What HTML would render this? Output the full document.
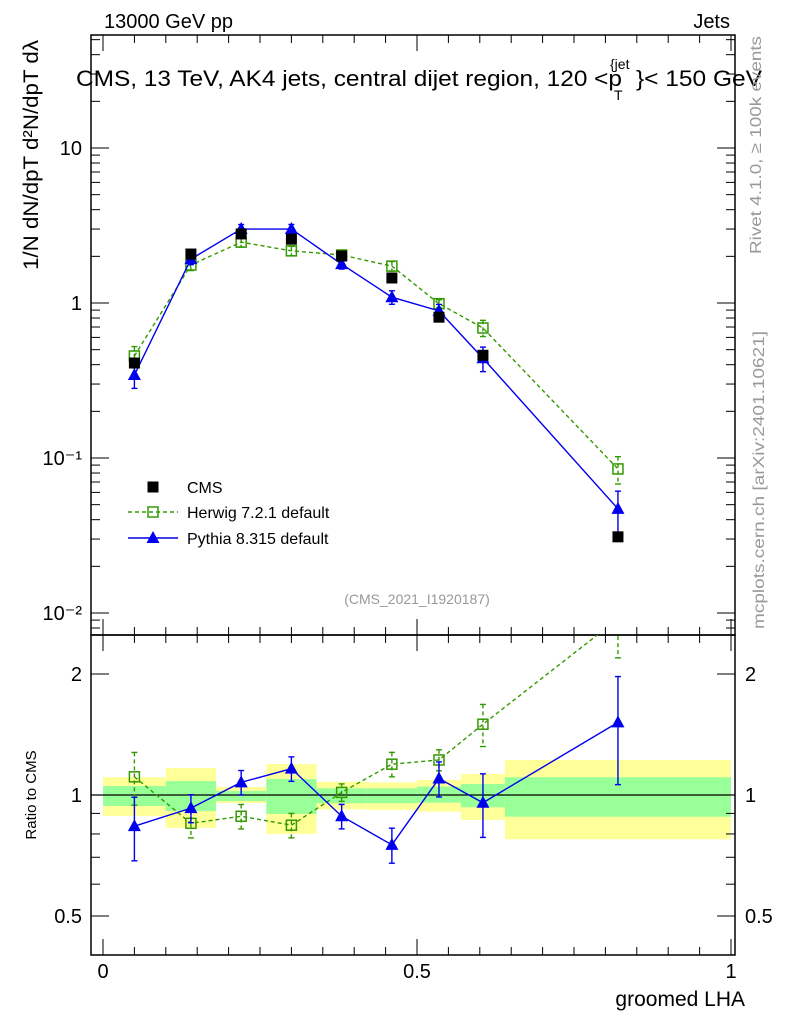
<!DOCTYPE html>
<html><head><meta charset="utf-8"><style>
body{margin:0;background:#fff}
svg{font-family:"Liberation Sans",sans-serif}
</style></head><body>
<svg id="c" width="786" height="1024" xmlns="http://www.w3.org/2000/svg"></svg>
<script>
const xCenters=[0.05,0.14,0.22,0.30,0.38,0.46,0.535,0.605,0.82];
const binEdges=[0,0.1,0.18,0.26,0.34,0.42,0.5,0.57,0.64,1.0];
const cmsVals=[0.41,2.07,2.79,2.58,2.01,1.45,0.81,0.46,0.031];
const herwigVals=[0.455,1.76,2.47,2.17,2.04,1.73,0.99,0.69,0.085];
const herwigRelErr=[0.15,0.08,0.07,0.07,0.05,0.07,0.06,0.12,0.2];
const pythiaVals=[0.343,1.92,3.0,3.0,1.78,1.09,0.89,0.44,0.047];
const pythiaRelErr=[0.18,0.08,0.07,0.07,0.07,0.1,0.1,0.18,0.3];
const bandYellowHi=[1.107,1.167,1.047,1.194,1.079,1.075,1.09,1.128,1.222];
const bandYellowLo=[0.887,0.828,0.955,0.80,0.921,0.918,0.909,0.867,0.776];
const bandGreenHi=[1.053,1.083,1.023,1.096,1.039,1.039,1.049,1.065,1.107];
const bandGreenLo=[0.939,0.912,0.966,0.897,0.954,0.954,0.957,0.932,0.883];
const mainTicks=["10\u207B\u00B2","10\u207B\u00B9","1","10"];
const xTickLabels=["0","0.5","1"];

const svg=document.getElementById('c');const NS="http://www.w3.org/2000/svg";
function el(t,a,p){const e=document.createElementNS(NS,t);for(const k in a)e.setAttribute(k,a[k]);(p||svg).appendChild(e);return e;}
const L=91,R=735,T=35,M=635,B=955;
const X=v=>103+v*628;
const Y=v=>303-155*Math.log10(v);
const YR=v=>795-121*Math.log2(v);
const defs=el('defs',{});
const c1=el('clipPath',{id:'cp1'},defs);el('rect',{x:L,y:T,width:R-L,height:M-T},c1);
const c2=el('clipPath',{id:'cp2'},defs);el('rect',{x:L,y:M,width:R-L,height:B-M},c2);

const gb=el('g',{'clip-path':'url(#cp2)'});

for(let i=0;i<xCenters.length;i++){
 const x0=X(binEdges[i]),x1=X(binEdges[i+1]);
 const ry=el('rect',{x:x0,y:YR(bandYellowHi[i]),width:x1-x0,height:YR(bandYellowLo[i])-YR(bandYellowHi[i]),fill:'#ffff99'},gb);
 
 const rg=el('rect',{x:x0,y:YR(bandGreenHi[i]),width:x1-x0,height:YR(bandGreenLo[i])-YR(bandGreenHi[i]),fill:'#99ff99'},gb);
 
}
el('line',{x1:L,x2:R,y1:YR(1),y2:YR(1),stroke:'#000','stroke-width':1.2});

el('rect',{x:L,y:T,width:R-L,height:M-T,fill:'none',stroke:'#000','stroke-width':1.5,});
el('rect',{x:L,y:M,width:R-L,height:B-M,fill:'none',stroke:'#000','stroke-width':1.5,});

for(let k=0;k<=20;k++){const v=k*0.05,x=X(v),len=(k%10==0)?16:8;
 for(const [y0,d] of [[T,1],[M,-1],[M,1],[B,-1]]) el('line',{x1:x,x2:x,y1:y0,y2:y0+d*len,stroke:'#000'});}
xTickLabels.forEach((t,i)=>{const tx=el('text',{x:X(i*0.5),y:978,'font-size':20,'text-anchor':'middle'});tx.textContent=t;
 });
for(let e=-3;e<=1;e++)for(let m=1;m<10;m++){const v=m*Math.pow(10,e),y=Y(v);if(y<T||y>M)continue;
 const len=m==1?18:9;el('line',{x1:L,x2:L+len,y1:y,y2:y,stroke:'#000'});el('line',{x1:R,x2:R-len,y1:y,y2:y,stroke:'#000'});}
mainTicks.forEach((t,i)=>{const tx=el('text',{x:82,y:Y(Math.pow(10,i-2))+7,'font-size':20,'text-anchor':'end'});tx.textContent=t;
 });
[0.4,0.5,0.6,0.7,0.8,0.9,1,2].forEach(v=>{const y=YR(v);const len=(v==0.5||v==1||v==2)?18:9;
 el('line',{x1:L,x2:L+len,y1:y,y2:y,stroke:'#000'});el('line',{x1:R,x2:R-len,y1:y,y2:y,stroke:'#000'});});
[["2",2],["1",1],["0.5",0.5]].forEach(([t,v])=>{for(const [x,a] of [[82,'end'],[745,'start']]){const tx=el('text',{x:x,y:YR(v)+7,'font-size':20,'text-anchor':a});tx.textContent=t;
 }});

function series(vals,relErr,color,dash,marker,yf,clip,name){
 const g=el('g',{'clip-path':clip});
 const pts=vals.map((v,i)=>[X(xCenters[i]),yf(v,i)]);
 el('polyline',{points:pts.map(p=>p.join(',')).join(' '),fill:'none',stroke:color,'stroke-width':1.4,'stroke-dasharray':dash},g);
 vals.forEach((v,i)=>{const x=pts[i][0];
  if(relErr){const y1=yf(v*(1+relErr[i]),i),y2=yf(v*(1-relErr[i]),i);
   el('line',{x1:x,x2:x,y1:y1,y2:y2,stroke:color,'stroke-width':1.4,'stroke-dasharray':dash},g);
   el('line',{x1:x-3,x2:x+3,y1:y1,y2:y1,stroke:color,'stroke-width':1.4},g);el('line',{x1:x-3,x2:x+3,y1:y2,y2:y2,stroke:color,'stroke-width':1.4},g);}
  drawMarker(marker,x,pts[i][1],color,g);});
}
function drawMarker(m,x,y,color,g){let e;
 if(m=='fsq')e=el('rect',{x:x-5.5,y:y-5.5,width:11,height:11,fill:'#000'},g);
 else if(m=='osq')e=el('rect',{x:x-5,y:y-5,width:10,height:10,fill:'none',stroke:color,'stroke-width':1.5},g);
 else e=el('polygon',{points:`${x},${y-7} ${x-6.5},${y+5} ${x+6.5},${y+5}`,fill:color},g);
 }
series(herwigVals,herwigRelErr,'#339900','4,3','osq',v=>Y(v),'url(#cp1)','herwig-series');
series(pythiaVals,pythiaRelErr,'#0000ee','','tri',v=>Y(v),'url(#cp1)','pythia-series');
const gc=el('g',{});
cmsVals.forEach((v,i)=>drawMarker('fsq',X(xCenters[i]),Y(v),'#000',gc));
series(herwigVals,herwigRelErr,'#339900','4,3','osq',(v,i)=>YR(v/cmsVals[i]),'url(#cp2)','herwig-ratio');
series(pythiaVals,pythiaRelErr,'#0000ee','','tri',(v,i)=>YR(v/cmsVals[i]),'url(#cp2)','pythia-ratio');

const lg=el('g',{});
drawMarker('fsq',153,487,'#000',lg);
el('line',{x1:128,x2:178,y1:512,y2:512,stroke:'#339900','stroke-width':1.4,'stroke-dasharray':'4,3'},lg);drawMarker('osq',153,512,'#339900',lg);
el('line',{x1:128,x2:178,y1:538,y2:538,stroke:'#0000ee','stroke-width':1.4},lg);drawMarker('tri',153,538,'#0000ee',lg);
[["CMS",487],["Herwig 7.2.1 default",512],["Pythia 8.315 default",538]].forEach(([t,y])=>{const tx=el('text',{x:187,y:y+6,'font-size':16},lg);tx.textContent=t;
 });

function txt(s,a,name){const t=el('text',a);t.textContent=s;return t;}
txt('13000 GeV pp',{x:104,y:28,'font-size':20},'beam-label');
txt('Jets',{x:730,y:28,'font-size':20,'text-anchor':'end'},'process-label');
txt('CMS, 13 TeV, AK4 jets, central dijet region, 120 <p',{x:76,y:86,'font-size':22,textLength:546,lengthAdjust:'spacingAndGlyphs'},'plot-title');
txt('{jet',{x:610,y:69,'font-size':14},'plot-title-superscript');
txt('T',{x:614,y:100,'font-size':14},'plot-title-subscript');
txt('}< 150 GeV',{x:636,y:86,'font-size':22,textLength:126,lengthAdjust:'spacingAndGlyphs'},'plot-title-end');
txt('(CMS_2021_I1920187)',{x:417,y:604,'font-size':14,fill:'#999','text-anchor':'middle'},'analysis-id');
txt('groomed LHA',{x:745,y:1006,'font-size':21,'text-anchor':'end'},'x-axis-title');
txt('Ratio to CMS',{x:0,y:0,'font-size':15,'text-anchor':'middle',transform:'translate(36,795) rotate(-90)'},'ratio-axis-title');
txt('1/N dN/dpT d²N/dpT dλ',{x:0,y:0,'font-size':21,'text-anchor':'middle',transform:'translate(38,155) rotate(-90)',textLength:230,lengthAdjust:'spacingAndGlyphs'},'y-axis-title');
txt('Rivet 4.1.0, \u2265 100k events',{x:0,y:0,'font-size':16,fill:'#999','text-anchor':'middle',transform:'translate(761,145) rotate(-90)',textLength:218,lengthAdjust:'spacingAndGlyphs'},'rivet-label');
txt('mcplots.cern.ch [arXiv:2401.10621]',{x:0,y:0,'font-size':16,fill:'#999','text-anchor':'middle',transform:'translate(764,480) rotate(-90)',textLength:298,lengthAdjust:'spacingAndGlyphs'},'source-label');
</script>
</body></html>
